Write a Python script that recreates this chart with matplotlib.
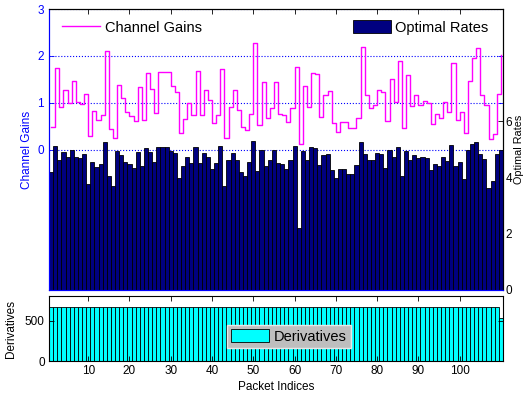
import numpy as np
import matplotlib
matplotlib.use("Agg")
import matplotlib.pyplot as plt

# channel gain per packet (stairs, left axis)
channel_gains = [
    0.48, 1.75, 0.91, 1.28, 1.00, 1.46, 1.01, 0.97, 1.19, 0.28,
    0.83, 0.63, 0.74, 2.10, 0.43, 0.24, 1.38, 1.11, 0.81, 0.71,
    0.61, 1.33, 0.64, 1.63, 1.29, 0.77, 1.66, 1.66, 1.66, 1.36,
    1.22, 0.36, 0.66, 1.00, 0.74, 1.68, 0.74, 1.26, 1.05, 0.56,
    0.74, 1.71, 0.24, 0.91, 1.28, 0.85, 0.49, 0.42, 0.76, 2.28,
    0.52, 1.45, 0.67, 0.89, 1.45, 0.75, 0.73, 0.59, 0.89, 1.76,
    0.12, 1.36, 0.91, 1.64, 1.61, 0.69, 1.16, 1.24, 0.57, 0.38,
    0.59, 0.59, 0.46, 0.46, 0.67, 2.19, 1.17, 0.89, 0.95, 1.28,
    1.22, 0.61, 1.51, 1.01, 1.88, 0.46, 1.60, 0.92, 1.16, 0.96,
    1.03, 1.00, 0.55, 0.75, 0.68, 1.01, 0.81, 1.85, 0.64, 0.81,
    0.36, 1.46, 1.95, 2.16, 1.17, 0.96, 0.23, 0.33, 1.18, 2.02,
]

# optimal rate per packet (bars, right axis)
optimal_rates = [
    4.21, 5.12, 4.64, 4.90, 4.72, 5.00, 4.73, 4.69, 4.85, 3.78,
    4.57, 4.38, 4.50, 5.26, 4.07, 3.70, 4.94, 4.82, 4.54, 4.48,
    4.35, 4.91, 4.40, 5.07, 4.92, 4.54, 5.08, 5.08, 5.10, 4.96,
    4.88, 3.98, 4.43, 4.73, 4.52, 5.08, 4.52, 4.88, 4.75, 4.31,
    4.52, 5.12, 3.71, 4.64, 4.88, 4.61, 4.20, 4.07, 4.55, 5.32,
    4.25, 4.99, 4.43, 4.61, 4.99, 4.52, 4.49, 4.31, 4.61, 5.12,
    2.20, 4.94, 4.64, 5.08, 5.04, 4.45, 4.81, 4.85, 4.28, 4.00,
    4.29, 4.29, 4.13, 4.13, 4.45, 5.28, 4.85, 4.61, 4.64, 4.88,
    4.85, 4.33, 5.00, 4.72, 5.10, 4.07, 4.96, 4.64, 4.81, 4.69,
    4.73, 4.69, 4.28, 4.49, 4.43, 4.75, 4.58, 5.17, 4.40, 4.57,
    3.95, 4.99, 5.20, 5.26, 4.85, 4.67, 3.62, 3.89, 4.85, 5.00,
]

# derivatives per packet (bottom panel)
derivatives = [674] * 109 + [530]

packets = np.arange(1, len(optimal_rates) + 1)
x_ticks = [10, 20, 30, 40, 50, 60, 70, 80, 90, 100]

plt.rcParams["font.family"] = ["Liberation Sans", "DejaVu Sans"]
plt.rcParams["font.size"] = 8.5

W, H = 525, 397
fig = plt.figure(figsize=(W / 100, H / 100), dpi=100)
ax_g = fig.add_axes([49 / W, 1 - 290 / H, 454 / W, 281 / H])
ax_r = ax_g.twinx()
ax_d = fig.add_axes([49 / W, 1 - 361 / H, 454 / W, 65 / H])

blue = "#0000ff"
tick_kw = dict(direction="in", length=3.3, width=0.6)

# channel gains (left axis)
(gain_line,) = ax_g.step(packets, channel_gains, where="post", color="#ff00ff", lw=1.0)
ax_g.set_xlim(0.5, 110.5)
ax_g.set_ylim(-3, 3)
ax_g.set_yticks([0, 1, 2, 3])
ax_g.set_xticks(x_ticks)
ax_g.set_xticklabels([])
ax_g.yaxis.grid(True, linestyle=":", color=blue, lw=0.8)
ax_g.tick_params(axis="y", colors=blue, right=True, pad=3.5, **tick_kw)
ax_g.tick_params(axis="x", top=True, **tick_kw)
ax_g.set_ylabel("Channel Gains", color=blue, labelpad=3)
for side in ("left", "bottom"):
    ax_g.spines[side].set_color(blue)

# optimal rates (right axis)
rate_bars = ax_r.bar(packets, optimal_rates, width=1.0, color="#000080",
                     edgecolor="black", lw=0.6)
ax_r.set_ylim(0, 10)
ax_r.set_yticks([0, 2, 4, 6])
ax_r.set_axisbelow(True)
ax_r.xaxis.grid(True, linestyle=":", color="#303030", lw=0.8)
ax_r.tick_params(axis="y", colors="black", pad=2, **tick_kw)
ax_r.set_ylabel("Optimal Rates", fontsize=7.8, labelpad=1)
for side in ("left", "bottom"):
    ax_r.spines[side].set_color(blue)

leg_kw = dict(fontsize=10.5, handlelength=2.6, handleheight=0.95, handletextpad=0.3,
              borderaxespad=0, fancybox=False, framealpha=1, borderpad=0.3)
leg1 = ax_r.legend([gain_line], ["Channel Gains"], loc="upper left",
                   bbox_to_anchor=(0.02, 0.975), edgecolor="white", **leg_kw)
ax_r.add_artist(leg1)
ax_r.legend([rate_bars], ["Optimal Rates"], loc="upper right",
            bbox_to_anchor=(0.978, 0.975), edgecolor="white", **leg_kw)

# derivatives
der_bars = ax_d.bar(packets, derivatives, width=1.0, color="#00ffff",
                    edgecolor="black", lw=0.6)
ax_d.set_xlim(0.5, 110.5)
ax_d.set_ylim(0, 810)
ax_d.set_yticks([0, 500])
ax_d.set_xticks(x_ticks)
ax_d.tick_params(axis="both", top=True, right=True, pad=3, **tick_kw)
ax_d.set_ylabel("Derivatives", labelpad=6)
ax_d.set_xlabel("Packet Indices", labelpad=3)
ax_d.legend([der_bars], ["Derivatives"], loc="lower left", bbox_to_anchor=(0.392, 0.2),
            facecolor="#bebebe", edgecolor="#e8e8e8", **leg_kw)

fig.savefig("out.png", dpi=100)
